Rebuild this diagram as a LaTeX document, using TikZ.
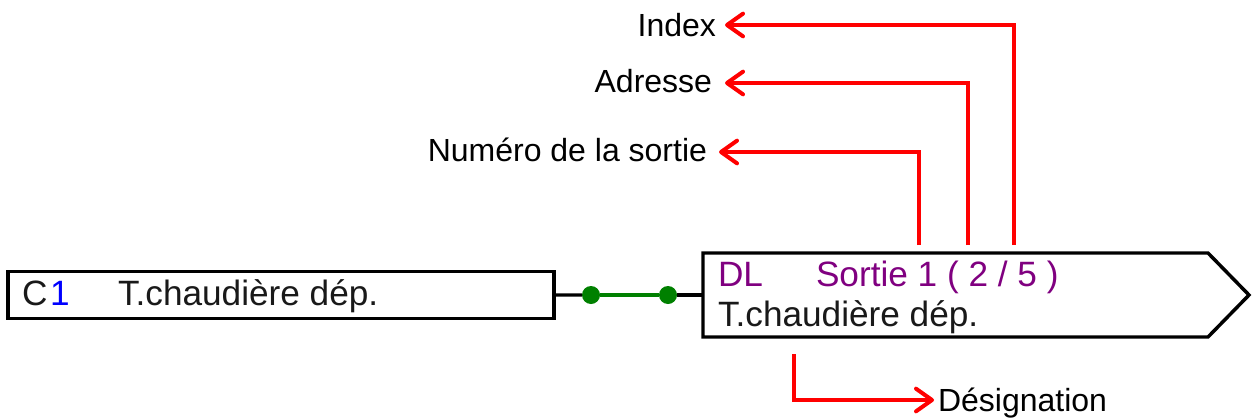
\documentclass[tikz,border=0pt]{standalone}
\usepackage{fontspec}
\setmainfont{Liberation Sans}
\usetikzlibrary{arrows.meta}
\definecolor{wiregreen}{RGB}{0,128,0}
\definecolor{dlpurple}{RGB}{128,0,128}
\definecolor{numblue}{RGB}{0,0,255}
\tikzset{
  txt/.style={inner sep=0pt,outer sep=0pt,anchor=base west,font=\fontsize{26.4}{30}\selectfont,text=black!90},
  lab/.style={txt,font=\fontsize{24}{28}\selectfont,text=black},
  labr/.style={lab,anchor=base east},
  box/.style={draw=black,line width=2.6pt,fill=white,line join=miter},
  wire/.style={draw=black,line width=2.4pt},
  gwire/.style={draw=wiregreen,line width=2.4pt},
  gdot/.style={shape=circle,fill=wiregreen,inner sep=0pt,outer sep=0pt,minimum size=13.5pt},
  callout/.style={draw=red,line width=3pt,line join=miter,-{Straight Barb[length=12pt,width=17pt,line width=3pt,round]}},
}
\begin{document}
\begin{tikzpicture}[x=0.75pt,y=-0.75pt]
\useasboundingbox (0,0) rectangle (1252,418);
% left box
\node[box,shape=rectangle,inner sep=0pt,outer sep=0pt,minimum width=409.5pt,minimum height=35.2pt,anchor=north west] (src) at (8,271.5) {};
\node[txt] (srcC) at (22,305) {C};
\node[txt,text=numblue] (srcN) at (50,305) {1};
\node[txt] (srcT) at (118,305) {T.chaudière dép.};
% output box
\coordinate (o1) at (703,253);
\coordinate (o2) at (1208,253);
\coordinate (o3) at (1249,295);
\coordinate (o4) at (1208,337);
\coordinate (o5) at (703,337);
\draw[box] (o1) -- (o2) -- (o3) -- (o4) -- (o5) -- cycle;
\coordinate (owest) at (703,295);
\node[txt,text=dlpurple] (dl) at (718,286) {DL};
\node[txt,text=dlpurple] (sortie) at (816,286) {Sortie 1 ( 2 / 5 )};
\node[txt] (dest) at (718,326) {T.chaudière dép.};
% wire
\node[gdot] (d1) at (591,295) {};
\node[gdot] (d2) at (668,295) {};
\draw[wire] (src.east) -- (d1);
\draw[wire] (d2) -- (owest);
\draw[gwire] (d1) -- (d2);
% labels
\node[labr] (index) at (716,36) {Index};
\node[labr] (adresse) at (712,92) {Adresse};
\node[labr] (numero) at (707,161) {Numéro de la sortie};
\node[lab] (desig) at (938,411) {Désignation};
% free ends
\coordinate (tapI) at (1014,245);
\coordinate (tapA) at (968,245);
\coordinate (tapN) at (919,245);
\coordinate (tapD) at (794,354);
\coordinate (tipI) at (725,25);
\coordinate (tipA) at (725,83);
\coordinate (tipN) at (719,152);
\coordinate (tipD) at (934,400);
\draw[callout] (tapI) |- (tipI);
\draw[callout] (tapA) |- (tipA);
\draw[callout] (tapN) |- (tipN);
\draw[callout] (tapD) |- (tipD);
\end{tikzpicture}
\end{document}
